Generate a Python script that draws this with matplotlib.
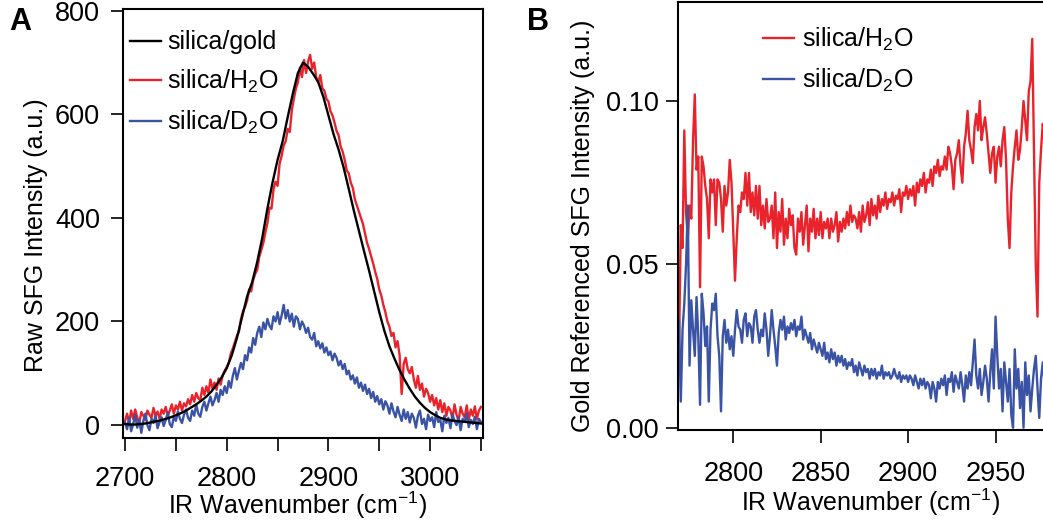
import numpy as np
import matplotlib
matplotlib.use("Agg")
import matplotlib.pyplot as plt

plt.rcParams.update({
    "font.family": "Liberation Sans",
    "mathtext.fontset": "custom",
    "mathtext.rm": "Liberation Sans",
    "mathtext.it": "Liberation Sans:italic",
    "mathtext.bf": "Liberation Sans:bold",
    "mathtext.sf": "Liberation Sans",
})

# ---------------- Panel A data ----------------
wn_a_start, wn_a_stop, wn_a_step = 2700, 3050, 2
wn_gold_step = 5

gold_a = [2, 1, 1, 2, 3, 5, 7, 9, 12, 15,
          19, 23, 28, 34, 40, 47, 55, 65, 78, 92,
          110, 135, 168, 208, 248, 276, 315, 362, 418, 468,
          512, 548, 595, 640, 680, 700, 692, 678, 662, 634,
          598, 562, 532, 497, 456, 414, 375, 336, 298, 258,
          218, 182, 152, 128, 106, 87, 70, 55, 43, 33,
          25, 19, 14, 11, 9, 8, 7, 6, 5, 4, 3]

h2o_a = [8, 22, 5, 28, 12, 30, 15, 4, 25, 18,
         10, 28, 20, 14, 33, 18, 26, 12, 30, 22,
         35, 18, 28, 40, 22, 38, 30, 45, 28, 42,
         36, 50, 40, 58, 45, 62, 52, 48, 72, 58,
         75, 62, 88, 70, 82, 68, 90, 78, 96, 105,
         112, 120, 138, 148, 160, 172, 180, 205, 220, 228,
         240, 262, 258, 280, 292, 300, 325, 338, 352, 372,
         390, 420, 418, 455, 470, 462, 505, 520, 540, 548,
         572, 566, 608, 630, 650, 662, 690, 672, 705, 680,
         702, 715, 688, 700, 672, 662, 676, 650, 646, 630,
         625, 606, 598, 584, 568, 560, 538, 528, 512, 492,
         486, 468, 458, 436, 424, 412, 400, 388, 370, 352,
         340, 326, 312, 296, 282, 262, 250, 232, 218, 200,
         190, 172, 178, 150, 162, 135, 60, 118, 130, 108,
         100, 112, 88, 72, 95, 68, 80, 55, 70, 62,
         45, 58, 38, 52, 30, 48, 25, 42, 18, 35,
         28, 12, 40, 20, 8, 35, 22, 15, 38, 10,
         30, 18, 36, 12, 28, 35]

d2o_a = [5, -8, 14, -12, 2, 20, -5, 10, -15, 8,
         22, 0, -10, 12, 4, 18, -6, 6, 15, -2,
         10, 24, 2, -4, 16, 8, 26, 12, 4, 20,
         30, 14, 8, 28, 18, 40, 22, 16, 35, 45,
         28, 42, 55, 38, 48, 62, 45, 68, 58, 75,
         62, 85, 72, 95, 110, 88, 105, 120, 108, 135,
         125, 150, 140, 168, 155, 178, 190, 170, 198, 185,
         205, 192, 185, 210, 200, 218, 195, 212, 232, 206,
         222, 200, 215, 190, 210, 205, 185, 200, 192, 178,
         188, 170, 165, 178, 152, 162, 148, 158, 140, 150,
         135, 142, 125, 138, 130, 115, 124, 108, 118, 98,
         105, 88, 96, 80, 92, 72, 82, 66, 78, 60,
         70, 52, 64, 45, 56, 40, 50, 30, 46, 38,
         22, 42, 26, 15, 35, 20, 8, 30, 12, 25,
         5, 22, 14, -5, 18, 28, 2, 12, -8, 20,
         8, 15, -4, 25, 6, 10, -12, 18, 4, 14,
         -6, 20, 8, 0, 15, -10, 12, 6, 22, -4,
         10, 2, 16, -8, 12, 6]

# ---------------- Panel B data ----------------
wn_b_start, wn_b_stop, wn_b_step = 2769, 2978, 1

h2o_b = [0.025, 0.062, 0.055, 0.091, 0.066, 0.058, 0.068, 0.064, 0.088, 0.102,
         0.079, 0.083, 0.043, 0.083, 0.080, 0.074, 0.070, 0.058, 0.076, 0.072,
         0.076, 0.062, 0.076, 0.075, 0.070, 0.060, 0.074, 0.068, 0.072, 0.082,
         0.075, 0.060, 0.045, 0.058, 0.068, 0.066, 0.072, 0.070, 0.078, 0.068,
         0.078, 0.066, 0.072, 0.065, 0.074, 0.064, 0.074, 0.062, 0.068, 0.061,
         0.070, 0.063, 0.064, 0.068, 0.058, 0.072, 0.055, 0.066, 0.060, 0.070,
         0.056, 0.064, 0.058, 0.067, 0.062, 0.065, 0.055, 0.053, 0.064, 0.060,
         0.066, 0.056, 0.062, 0.068, 0.054, 0.064, 0.060, 0.067, 0.058, 0.064,
         0.059, 0.066, 0.058, 0.063, 0.061, 0.064, 0.058, 0.064, 0.060, 0.062,
         0.066, 0.057, 0.063, 0.060, 0.064, 0.061, 0.066, 0.062, 0.068, 0.063,
         0.065, 0.064, 0.061, 0.066, 0.060, 0.068, 0.063, 0.065, 0.069, 0.062,
         0.070, 0.065, 0.068, 0.064, 0.071, 0.066, 0.070, 0.068, 0.072, 0.067,
         0.070, 0.069, 0.072, 0.068, 0.071, 0.070, 0.073, 0.066, 0.072, 0.071,
         0.074, 0.070, 0.073, 0.071, 0.074, 0.068, 0.075, 0.072, 0.076, 0.074,
         0.078, 0.072, 0.076, 0.075, 0.079, 0.074, 0.080, 0.078, 0.082, 0.077,
         0.080, 0.079, 0.083, 0.079, 0.086, 0.084, 0.080, 0.073, 0.082, 0.084,
         0.088, 0.080, 0.075, 0.086, 0.090, 0.097, 0.088, 0.085, 0.081, 0.092,
         0.096, 0.091, 0.100, 0.088, 0.092, 0.095, 0.090, 0.084, 0.078, 0.084,
         0.086, 0.075, 0.083, 0.086, 0.080, 0.088, 0.092, 0.082, 0.064, 0.055,
         0.072, 0.080, 0.086, 0.091, 0.082, 0.085, 0.092, 0.100, 0.094, 0.088,
         0.103, 0.106, 0.119, 0.085, 0.050, 0.034, 0.075, 0.085, 0.093, 0.090]

d2o_b = [0.033, 0.008, 0.030, 0.038, 0.050, 0.068, 0.019, 0.039, 0.030, 0.022,
         0.040, 0.028, 0.007, 0.041, 0.035, 0.025, 0.031, 0.008, 0.030, 0.038,
         0.036, 0.041, 0.028, 0.022, 0.005, 0.028, 0.033, 0.026, 0.030, 0.024,
         0.028, 0.022, 0.030, 0.036, 0.031, 0.030, 0.026, 0.033, 0.035, 0.028,
         0.032, 0.031, 0.026, 0.034, 0.036, 0.030, 0.026, 0.030, 0.028, 0.035,
         0.030, 0.022, 0.028, 0.036, 0.030, 0.025, 0.019, 0.029, 0.033, 0.030,
         0.034, 0.027, 0.031, 0.029, 0.032, 0.030, 0.033, 0.028, 0.031, 0.030,
         0.034, 0.027, 0.030, 0.028, 0.026, 0.029, 0.024, 0.027, 0.025, 0.023,
         0.026, 0.024, 0.022, 0.026, 0.021, 0.023, 0.020, 0.024, 0.021, 0.023,
         0.019, 0.022, 0.020, 0.022, 0.019, 0.021, 0.018, 0.020, 0.019, 0.021,
         0.017, 0.019, 0.016, 0.020, 0.018, 0.016, 0.019, 0.017, 0.018, 0.015,
         0.018, 0.016, 0.018, 0.015, 0.017, 0.016, 0.019, 0.015, 0.017, 0.016,
         0.017, 0.015, 0.016, 0.018, 0.016, 0.015, 0.017, 0.014, 0.016, 0.015,
         0.016, 0.014, 0.016, 0.015, 0.013, 0.016, 0.014, 0.012, 0.015, 0.013,
         0.015, 0.012, 0.014, 0.013, 0.009, 0.014, 0.012, 0.008, 0.014, 0.012,
         0.015, 0.013, 0.016, 0.010, 0.015, 0.014, 0.017, 0.011, 0.016, 0.014,
         0.012, 0.017, 0.013, 0.008, 0.016, 0.012, 0.017, 0.013, 0.020, 0.027,
         0.016, 0.012, 0.018, 0.010, 0.014, 0.019, 0.015, 0.008, 0.017, 0.024,
         0.012, 0.034, 0.022, 0.012, 0.018, 0.005, 0.020, 0.014, 0.008, 0.018,
         0.004, 0.000, 0.024, 0.012, 0.018, 0.006, 0.014, 0.000, 0.020, 0.010,
         0.016, 0.005, 0.012, 0.018, 0.022, 0.012, 0.003, 0.015, 0.020, 0.014]

labels_a = ["silica/gold", r"silica/H$_\mathregular{2}$O", r"silica/D$_\mathregular{2}$O"]
xticks_a = [2700, 2800, 2900, 3000]
xminor_a = [2750, 2850, 2950, 3050]
yticks_a = [0, 200, 400, 600, 800]
xticks_b = [2800, 2850, 2900, 2950]
yticks_b = [0.00, 0.05, 0.10]
yticklabels_b = ["0.00", "0.05", "0.10"]

wn_a = np.arange(wn_a_start, wn_a_stop + 1, wn_a_step)
wn_gold = np.arange(wn_a_start, wn_a_stop + 1, wn_gold_step)
wn_b = np.arange(wn_b_start, wn_b_stop + 1, wn_b_step)

RED = "#E8232B"
BLUE = "#3A53A4"
BLACK = "#000000"
LW = 1.7
TFS = 19.5   # tick labels
LFS = 18     # axis labels
GFS = 18     # legend

fig = plt.figure(figsize=(10.43, 5.25), dpi=100)
W, H = 1043.0, 525.0
axA = fig.add_axes([123 / W, 87 / H, 360 / W, 429 / H])
axB = fig.add_axes([678 / W, 95 / H, 370 / W, 428 / H])

# Panel A
lr, = axA.plot(wn_a, h2o_a, color=RED, lw=LW, label=labels_a[1])
lb, = axA.plot(wn_a, d2o_a, color=BLUE, lw=LW, label=labels_a[2])
lk, = axA.plot(wn_gold, gold_a, color=BLACK, lw=LW, label=labels_a[0])
axA.set_xlim(2698, 3052)
axA.set_ylim(-25, 803.5)
axA.set_xticks(xticks_a)
axA.set_xticks(xminor_a, minor=True)
axA.set_yticks(yticks_a)
axA.tick_params(axis="both", which="both", direction="out", length=9, width=1.2,
                labelsize=TFS)
axA.tick_params(axis="y", pad=7.5)
axA.tick_params(axis="x", which="both", pad=11)
axA.set_xlabel("IR Wavenumber (cm$^\\mathregular{-1}$)", fontsize=LFS)
axA.set_ylabel("Raw SFG Intensity (a.u.)", fontsize=LFS)
axA.xaxis.set_label_coords(0.485, -0.121)
axA.yaxis.set_label_coords(-0.208, 0.473)
for s in axA.spines.values():
    s.set_linewidth(1.5)
axA.legend(handles=[lk, lr, lb], loc="upper left", bbox_to_anchor=(0.02, 0.95),
           frameon=False, fontsize=GFS, handlelength=1.25, handletextpad=0.22,
           labelspacing=0.55, borderpad=0, borderaxespad=0)

# Panel B
rb, = axB.plot(wn_b, h2o_b, color=RED, lw=LW, label=labels_a[1])
bb, = axB.plot(wn_b, d2o_b, color=BLUE, lw=LW, label=labels_a[2])
axB.set_xlim(2768.4, 2980)
axB.set_ylim(-0.0007, 0.1303)
axB.set_xticks(xticks_b)
axB.set_yticks(yticks_b)
axB.set_yticklabels(yticklabels_b)
axB.tick_params(axis="both", which="both", direction="out", length=9, width=1.2,
                labelsize=TFS, pad=5)
axB.tick_params(axis="x", pad=13)
axB.set_xlabel("IR Wavenumber (cm$^\\mathregular{-1}$)", fontsize=LFS)
axB.set_ylabel("Gold Referenced SFG Intensity (a.u.)", fontsize=LFS)
axB.xaxis.set_label_coords(0.519, -0.133)
axB.yaxis.set_label_coords(-0.224, 0.477)
for s in axB.spines.values():
    s.set_linewidth(1.5)
axB.legend(handles=[rb, bb], loc="upper left", bbox_to_anchor=(0.23, 0.944),
           frameon=False, fontsize=GFS, handlelength=1.25, handletextpad=0.3,
           labelspacing=0.55, borderpad=0, borderaxespad=0)

fig.text(9 / W, 1 - 7 / H, "A", fontsize=22, fontweight="bold", va="top", ha="left")
fig.text(527 / W, 1 - 7 / H, "B", fontsize=22, fontweight="bold", va="top", ha="left")

fig.savefig("out.png", dpi=100)
